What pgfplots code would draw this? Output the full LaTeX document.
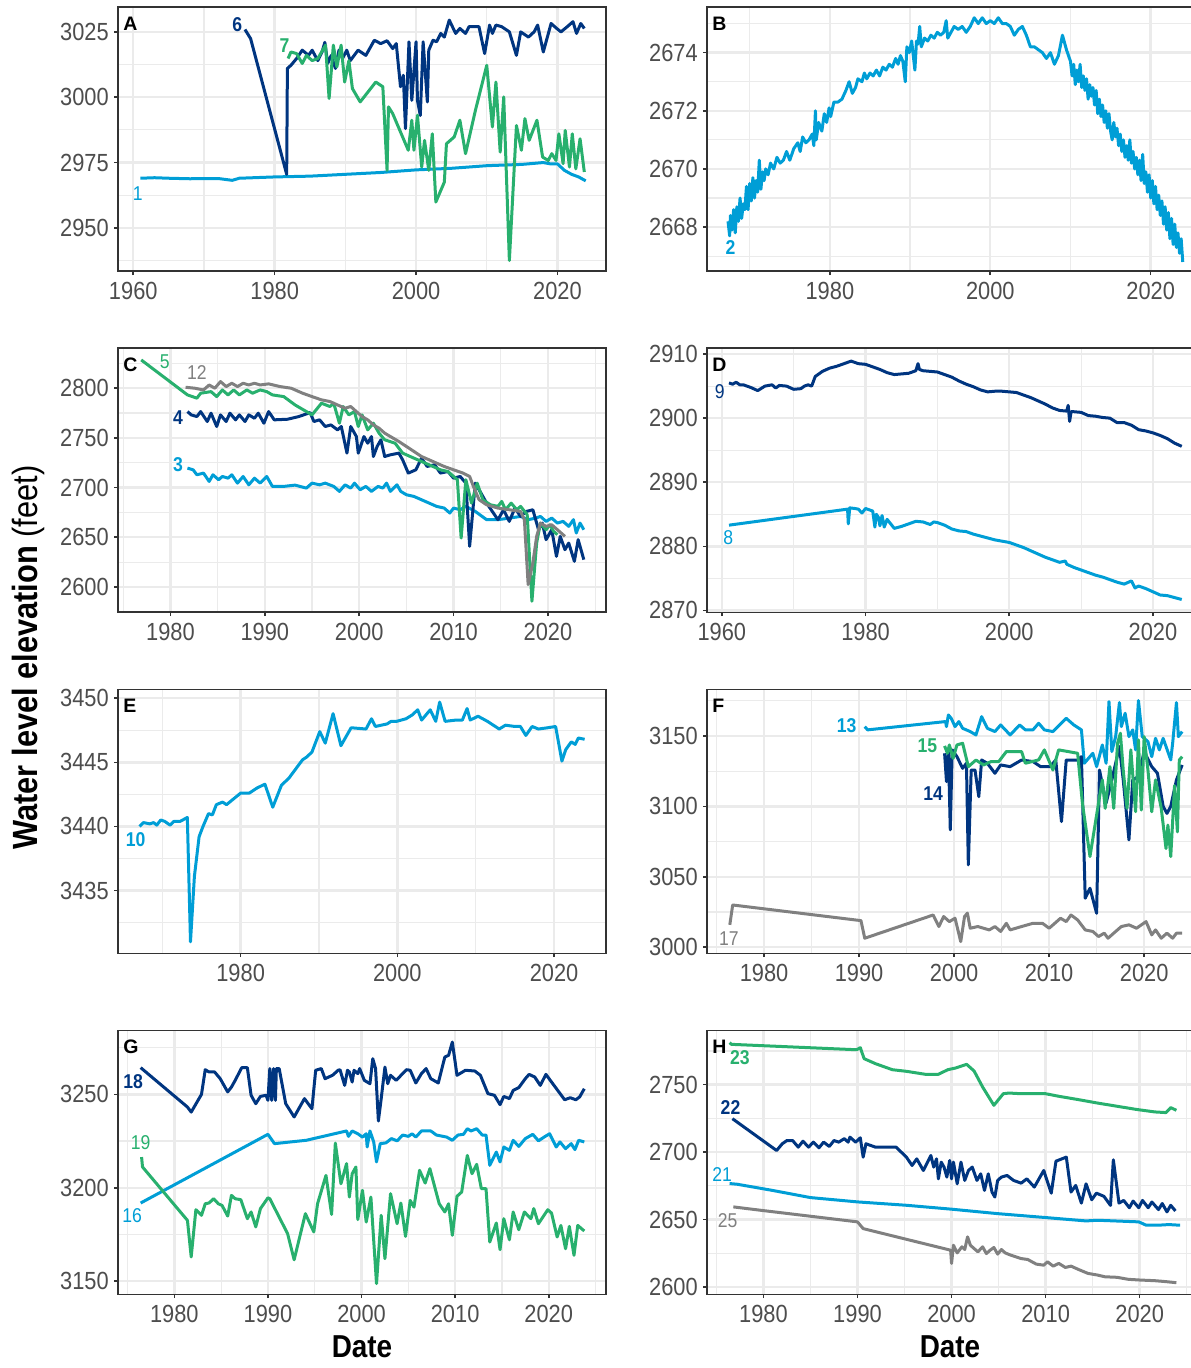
\documentclass[border=0pt]{standalone}
\usepackage{pgfplots}
\pgfplotsset{compat=1.18}
\usepackage{fontspec}
\setmainfont{Liberation Sans}
\newfontfamily\narrowfont{Liberation Sans}[FakeStretch=0.88]
\definecolor{lb}{RGB}{0,158,214}
\definecolor{nv}{RGB}{0,53,128}
\definecolor{gr}{RGB}{40,176,110}
\definecolor{gy}{RGB}{128,128,128}
\definecolor{g20}{RGB}{51,51,51}
\definecolor{g30}{RGB}{77,77,77}
\definecolor{g92}{RGB}{235,235,235}
\pgfplotsset{
  panel/.style={
    scale only axis, height=132pt,
    axis line style={draw=g20, line width=0.8pt},
    tick align=outside, major tick length=1.9pt, minor tick length=0pt,
    tick style={draw=g20, line width=0.8pt},
    tick pos=left,
    grid=both,
    major grid style={draw=g92, line width=1.2pt},
    minor grid style={draw=g92, line width=0.6pt},
    tick label style={font=\narrowfont\fontsize{12.4}{14}\selectfont, text=g30},
    yticklabel style={xshift=0.8pt},
    every axis plot/.append style={line width=1.5pt, line join=round, mark=none},
    clip mode=individual,
  },
  leftp/.style={panel, width=244pt},
  rightp/.style={panel, width=248.5pt},
}
\tikzset{
  lbl/.style={font=\narrowfont\bfseries\fontsize{10}{11}\selectfont, inner sep=0pt},
  lblr/.style={font=\narrowfont\fontsize{10}{11}\selectfont, inner sep=0pt},
  plet/.style={font=\bfseries\fontsize{9.75}{11}\selectfont, inner sep=0pt, anchor=north west, xshift=2.5pt, yshift=-4.7pt},
}
\begin{document}
\begin{tikzpicture}
\useasboundingbox (0,0) rectangle (595pt,-684pt);
% ---------------- A ----------------
\begin{axis}[leftp, at={(59pt,-3.65pt)}, anchor=north west,
  xmin=1957.84, xmax=2026.87, ymin=2933.4, ymax=3034.4,
  xtick={1960,1980,2000,2020}, xticklabels={1960,1980,2000,2020},
  minor xtick={1970,1990,2010},
  ytick={2950,2975,3000,3025}, yticklabels={2950,2975,3000,3025},
  minor ytick={2937.5,2962.5,2987.5,3012.5}]
\addplot[lb] coordinates {(1961,2969) (1963,2969.2) (1965,2969) (1968,2968.8) (1972,2968.9) (1974,2968.2) (1975,2969) (1980,2969.5) (1985,2969.8) (1990,2970.5) (1995,2971.2) (2000,2972.2) (2005,2972.8) (2010,2973.8) (2015,2974.3) (2018,2975) (2019,2974.5) (2020,2974.5) (2021,2972) (2022,2970.5) (2023,2969.5) (2024,2968)};
\addplot[nv] coordinates {(1975.8,3025.9) (1976.6,3022.4) (1981.7,2970.5) (1981.8,3011) (1982.3,3012.2) (1983.1,3014.8) (1983.9,3018) (1984.8,3016) (1985.3,3018) (1986.1,3014) (1986.7,3017.3) (1987.1,3021) (1987.5,3012.9) (1988,3016) (1988.6,3011) (1989.1,3018) (1989.6,3014.8) (1990.2,3018) (1990.7,3014) (1991.8,3018) (1992.9,3016) (1994.1,3021.8) (1995,3020.5) (1995.9,3021.6) (1996.7,3018.6) (1997.2,3020.5) (1997.8,3004) (1998.2,3008.4) (1998.5,2988) (1999,3021.2) (1999.4,2998.8) (2000,3021.2) (2000.2,2998.8) (2000.6,2993) (2001,3021.2) (2001.6,2998.2) (2001.8,3018) (2002.4,3021.8) (2002.9,3021.2) (2003.5,3024.4) (2004,3023) (2004.7,3029.5) (2005.6,3024.4) (2006.2,3026.3) (2007,3024.4) (2007.5,3027) (2008.9,3027) (2009.7,3016.7) (2010.4,3027.6) (2010.8,3024.4) (2011.3,3027.6) (2012.1,3027) (2013.2,3025) (2014.2,3016) (2014.8,3025) (2015.9,3023) (2016.7,3025) (2017.2,3027.6) (2018,3017.3) (2019.1,3028.2) (2019.9,3026.3) (2020.5,3025) (2021.4,3027) (2022.2,3028.9) (2022.7,3024.4) (2023.3,3028.2) (2023.8,3026.3)};
\addplot[gr] coordinates {(1981.9,3014.8) (1982.3,3017.3) (1983.1,3016.7) (1983.9,3012.9) (1984.5,3016) (1985.3,3014) (1986.1,3014.8) (1987.2,3019.9) (1987.7,2999.5) (1988.3,3019.9) (1988.8,3011.6) (1989.4,3019.9) (1989.9,3005.8) (1990.5,3014) (1991,3003.3) (1992.1,2998.2) (1994.3,3005.8) (1995.3,3004) (1995.9,2972) (1996.1,2996.3) (1996.7,2993.7) (1998.9,2979.7) (1999.4,2991.2) (1999.7,2979.7) (2000.2,2993.1) (2000.8,2973.3) (2001.2,2983.5) (2001.8,2972) (2002.3,2986) (2002.8,2959.9) (2004,2967.5) (2004.3,2982.2) (2005.4,2984.8) (2006.2,2991.2) (2007,2978.4) (2008.4,2995) (2010,3012.2) (2010.8,2988.6) (2011.3,3005.8) (2011.9,2979) (2012.4,3000.1) (2013.2,2937.5) (2014.2,2989.2) (2014.9,2979.7) (2015.4,2991.8) (2016,2983.5) (2017.1,2991.2) (2017.9,2977.1) (2018.7,2975.8) (2019.2,2978.4) (2019.8,2975.8) (2020.2,2986) (2020.8,2974.6) (2021.1,2987.3) (2021.7,2973.3) (2022.1,2986) (2022.6,2972.6) (2023.2,2984.1) (2023.8,2971.4)};
\node[plet] at (rel axis cs:0,1) {A};
\node[lbl, text=nv] at (axis cs:1974.7,3027.9) {6};
\node[lbl, text=gr] at (axis cs:1981.4,3019.9) {7};
\node[lblr, text=lb] at (axis cs:1960.65,2963.1) {1};
\end{axis}
% ---------------- B ----------------
\begin{axis}[rightp, at={(353.5pt,-3.65pt)}, anchor=north west,
  xmin=1964.68, xmax=2026.65, ymin=2666.48, ymax=2675.56,
  xtick={1980,2000,2020}, xticklabels={1980,2000,2020},
  minor xtick={1970,1990,2010},
  ytick={2668,2670,2672,2674}, yticklabels={2668,2670,2672,2674},
  minor ytick={2667,2669,2671,2673,2675}]
\addplot[lb] coordinates {(1967.3,2668.2) (1967.5,2667.7) (1967.6,2668.4) (1967.8,2667.9) (1968.0,2668.6) (1968.2,2667.8) (1968.4,2668.7) (1968.6,2668.2) (1968.8,2669.0) (1969.0,2668.3) (1969.2,2668.8) (1969.4,2668.6) (1969.6,2669.4) (1969.8,2668.6) (1970.0,2669.5) (1970.2,2668.9) (1970.4,2669.7) (1970.6,2669.0) (1970.8,2669.6) (1971.0,2669.2) (1971.2,2670.3) (1971.4,2669.3) (1971.6,2669.9) (1971.8,2669.6) (1972.0,2670.0) (1972.3,2669.8) (1972.6,2670.2) (1973,2670.0) (1973.4,2670.4) (1973.8,2670.2) (1974.2,2670.3) (1974.6,2670.6) (1975,2670.3) (1975.5,2670.7) (1976,2670.9) (1976.3,2670.6) (1976.6,2671.1) (1977,2670.9) (1977.4,2671.0) (1977.8,2671.2) (1978.0,2670.8) (1978.2,2672.0) (1978.3,2671.0) (1978.6,2671.6) (1979,2671.3) (1979.3,2671.9) (1979.6,2671.6) (1979.9,2672.1) (1980.1,2671.8) (1980.5,2672.3) (1981,2672.3) (1981.5,2672.4) (1982,2672.7) (1982.4,2673.0) (1982.8,2672.6) (1983.2,2672.8) (1983.5,2673.1) (1984,2673.0) (1984.3,2673.3) (1984.6,2673.1) (1985,2673.3) (1985.4,2673.2) (1985.8,2673.4) (1986.2,2673.2) (1986.6,2673.5) (1987,2673.4) (1987.4,2673.6) (1987.8,2673.5) (1988.2,2673.8) (1988.5,2673.6) (1988.8,2673.9) (1989.1,2673.7) (1989.4,2673.0) (1989.6,2674.2) (1989.9,2674.0) (1990.2,2674.4) (1990.4,2673.9) (1990.6,2673.4) (1990.8,2674.4) (1991,2674.3) (1991.2,2674.9) (1991.4,2674.2) (1991.8,2674.5) (1992.2,2674.4) (1992.6,2674.6) (1993,2674.5) (1993.4,2674.7) (1993.8,2674.6) (1994.2,2674.7) (1994.5,2675.1) (1994.7,2674.5) (1995.1,2674.7) (1995.5,2674.9) (1996,2674.8) (1996.5,2674.9) (1997,2674.7) (1997.5,2674.9) (1998,2675.2) (1998.5,2675.0) (1999,2675.2) (1999.5,2675.0) (2000,2675.1) (2000.5,2675.0) (2001,2675.2) (2001.5,2675.0) (2002,2675.0) (2002.5,2674.9) (2003,2674.6) (2003.5,2674.8) (2004,2674.9) (2004.5,2674.6) (2005,2674.2) (2005.5,2674.2) (2006,2674.1) (2006.5,2674.0) (2007,2673.8) (2007.5,2674.0) (2008,2673.6) (2008.5,2673.9) (2009,2674.6) (2009.5,2674.1) (2010,2673.7) (2010.2,2673.2) (2010.4,2673.6) (2010.6,2672.9) (2010.8,2673.4) (2011.0,2673.0) (2011.2,2673.6) (2011.4,2672.8) (2011.6,2673.2) (2011.8,2672.7) (2012.0,2673.1) (2012.2,2672.4) (2012.4,2672.9) (2012.6,2672.5) (2012.8,2672.8) (2013.0,2672.2) (2013.2,2672.7) (2013.4,2671.9) (2013.6,2672.4) (2013.8,2671.8) (2014.0,2672.2) (2014.2,2671.6) (2014.4,2672.0) (2014.6,2671.4) (2014.8,2671.9) (2015.0,2671.3) (2015.2,2671.0) (2015.4,2671.6) (2015.6,2671.1) (2015.8,2671.4) (2016.0,2670.8) (2016.2,2671.2) (2016.4,2670.6) (2016.6,2671.0) (2016.8,2670.4) (2017.0,2670.8) (2017.2,2670.3) (2017.4,2671.0) (2017.6,2670.2) (2017.8,2670.6) (2018.0,2670.0) (2018.2,2670.4) (2018.4,2669.8) (2018.6,2670.3) (2018.8,2669.6) (2019.0,2670.5) (2019.2,2669.5) (2019.4,2669.9) (2019.6,2669.2) (2019.8,2669.8) (2020.0,2669.0) (2020.2,2669.6) (2020.4,2668.8) (2020.6,2669.4) (2020.8,2668.6) (2021.0,2669.1) (2021.2,2668.4) (2021.4,2668.9) (2021.6,2668.1) (2021.8,2668.7) (2022.0,2667.9) (2022.2,2668.5) (2022.4,2667.6) (2022.6,2668.3) (2022.8,2667.4) (2023.0,2668.1) (2023.2,2667.3) (2023.4,2667.8) (2023.6,2667.1) (2023.8,2667.6) (2024,2666.8)};
\node[plet] at (rel axis cs:0,1) {B};
\node[lbl, text=lb] at (axis cs:1967.6,2667.3) {2};
\end{axis}
% ---------------- C ----------------
\begin{axis}[leftp, at={(59pt,-174.15pt)}, anchor=north west,
  xmin=1974.44, xmax=2026.15, ymin=2574.5, ymax=2840.2,
  xtick={1980,1990,2000,2010,2020}, xticklabels={1980,1990,2000,2010,2020},
  minor xtick={1975,1985,1995,2005,2015,2025},
  ytick={2600,2650,2700,2750,2800}, yticklabels={2600,2650,2700,2750,2800},
  minor ytick={2575,2625,2675,2725,2775,2825}]
\addplot[lb] coordinates {(1981.8,2719.6) (1982.4,2717.9) (1982.8,2712.9) (1983.5,2714.6) (1984.1,2706.2) (1984.5,2712.9) (1985.1,2707.9) (1985.5,2711.2) (1986.1,2709.5) (1986.5,2712.9) (1987.1,2704.5) (1987.7,2711.2) (1988.3,2702.8) (1988.9,2709.5) (1989.5,2704.5) (1990.2,2711.2) (1990.8,2701.2) (1992,2701.2) (1993.2,2702.5) (1994.4,2699.5) (1995,2704.5) (1995.8,2702.8) (1996.4,2704.5) (1997.3,2701.2) (1997.9,2696.2) (1998.5,2702.8) (1999.1,2699.5) (1999.5,2704.5) (2000.1,2697.8) (2000.7,2701.2) (2001.3,2696.2) (2002,2701.2) (2002.5,2699.5) (2002.9,2704.5) (2003.3,2696.2) (2004,2702.8) (2004.4,2696.2) (2005,2692.8) (2005.8,2691.1) (2007,2686.1) (2008.2,2681.1) (2009,2679.4) (2009.6,2674.4) (2010,2679.4) (2010.7,2677.7) (2011.3,2681.1) (2012.3,2676) (2013.5,2667.7) (2014.7,2667.7) (2015.9,2669.3) (2017.1,2671) (2017.9,2667.7) (2018.7,2669.3) (2019.2,2671) (2019.8,2666) (2020.4,2669.3) (2021,2664.3) (2021.6,2666) (2022.2,2661) (2022.7,2667.7) (2023,2654.3) (2023.4,2664.3) (2023.8,2657.6)};
\addplot[nv] coordinates {(1981.8,2776.5) (1982.2,2773.2) (1982.8,2771.5) (1983.2,2776.5) (1983.9,2766.5) (1984.3,2774.9) (1984.9,2761.5) (1985.3,2773.2) (1985.9,2766.5) (1986.3,2774.9) (1986.9,2768.2) (1987.3,2773.2) (1987.9,2766.5) (1988.3,2773.2) (1988.9,2769.8) (1989.3,2774.9) (1989.9,2764.8) (1990.4,2776.5) (1991,2768.2) (1992.4,2768.8) (1993.6,2771.5) (1994.8,2775.5) (1995.2,2766.5) (1995.8,2768.2) (1996.4,2761.5) (1997,2763.1) (1997.7,2758.1) (1998.1,2761.5) (1998.7,2734.7) (1999.1,2761.5) (1999.7,2751.4) (1999.9,2734.7) (2000.5,2751.4) (2000.9,2744.7) (2001.3,2751.4) (2001.5,2731.3) (2001.9,2741.4) (2002.3,2748.1) (2002.7,2731.3) (2003.3,2733) (2004.2,2734.7) (2004.6,2728) (2005.2,2714.6) (2006,2717.9) (2006.6,2729.6) (2007.2,2721.3) (2008,2723) (2008.6,2714.6) (2009.4,2716.2) (2010,2709.5) (2010.7,2711.2) (2011.3,2704.5) (2011.7,2640.9) (2012.3,2704.5) (2012.9,2694.5) (2013.5,2684.4) (2014.7,2667.7) (2015.3,2677.7) (2015.9,2666) (2016.5,2679.4) (2017.1,2671) (2017.7,2676) (2018.4,2677.7) (2019,2657.6) (2019.4,2664.3) (2019.8,2647.6) (2020.4,2657.6) (2020.9,2630.8) (2021.3,2650.9) (2021.8,2637.5) (2022.2,2644.2) (2022.8,2625.8) (2023.2,2647.6) (2023.8,2627.5)};
\addplot[gr] coordinates {(1976.9,2828.5) (1981.8,2793.3) (1982.8,2790) (1983.2,2795) (1984.3,2796.6) (1984.9,2791.6) (1985.5,2798.3) (1986.1,2793.3) (1986.7,2798.3) (1987.3,2793.3) (1988.1,2798.3) (1988.7,2795) (1989.5,2798.3) (1990.2,2796.6) (1990.8,2793.3) (1992,2791.6) (1993.2,2783.2) (1995,2773.2) (1996,2784.9) (1996.9,2781.6) (1997.3,2784.9) (1997.9,2764.8) (1998.3,2781.6) (1998.9,2773.2) (1999.5,2776.5) (1999.9,2761.5) (2000.3,2773.2) (2000.9,2758.1) (2001.5,2764.8) (2002.1,2754.8) (2002.7,2748.1) (2003.8,2744.7) (2004.6,2734.7) (2005.4,2731.3) (2006.2,2728) (2007,2724.6) (2007.8,2721.3) (2008.6,2717.9) (2009.4,2716.2) (2010,2711.2) (2010.4,2707.9) (2010.8,2649.2) (2011.3,2707.9) (2011.9,2684.4) (2012.5,2704.5) (2013.1,2687.8) (2013.9,2682.7) (2014.7,2681.1) (2015.1,2686.1) (2015.5,2677.7) (2016.1,2684.4) (2016.7,2677.7) (2017.1,2681.1) (2017.8,2672.7) (2018.3,2585.6) (2018.8,2644.2) (2019.2,2664.3) (2019.8,2657.6) (2020.2,2662.6) (2020.6,2656) (2021,2652.6)};
\addplot[gy] coordinates {(1981.6,2801) (1982.6,2800) (1983.5,2798.3) (1984.1,2803.3) (1984.7,2800) (1985.3,2806.7) (1985.9,2801.7) (1986.5,2805) (1987.1,2801.7) (1987.7,2805) (1988.3,2803.3) (1988.9,2805) (1989.5,2803.3) (1990.4,2804.4) (1991.6,2801.7) (1992.8,2800) (1994,2795) (1995,2791.6) (1996,2788.3) (1996.9,2786.6) (1997.7,2783.2) (1998.5,2779.9) (1999.1,2781.6) (1999.7,2776.5) (2000.3,2771.5) (2000.9,2768.2) (2001.5,2763.1) (2002.1,2759.8) (2002.7,2754.8) (2003.3,2751.4) (2004.2,2746.4) (2005,2741.4) (2005.8,2736.4) (2006.6,2731.3) (2007.4,2728) (2008.2,2724.6) (2009,2721.3) (2010,2717.9) (2011,2714.6) (2011.7,2711.2) (2012.1,2701.2) (2012.7,2687.8) (2013.5,2682.7) (2014.7,2679.4) (2015.9,2677.7) (2017.1,2676) (2017.5,2667.7) (2017.9,2602.4) (2018.4,2624.1) (2018.8,2650.9) (2019.2,2664.3) (2019.8,2661) (2020.4,2662.6) (2021,2657.6) (2021.8,2650.9)};
\node[plet] at (rel axis cs:0,1) {C};
\node[lblr, text=gr] at (axis cs:1979.4,2826.8) {5};
\node[lblr, text=gy] at (axis cs:1982.8,2815.7) {12};
\node[lbl, text=nv] at (axis cs:1980.8,2770.9) {4};
\node[lbl, text=lb] at (axis cs:1980.8,2723) {3};
\end{axis}
% ---------------- D ----------------
\begin{axis}[rightp, at={(353.5pt,-174.15pt)}, anchor=north west,
  xmin=1957.94, xmax=2027.1, ymin=2869.7, ymax=2910.9,
  xtick={1960,1980,2000,2020}, xticklabels={1960,1980,2000,2020},
  minor xtick={1970,1990,2010},
  ytick={2870,2880,2890,2900,2910}, yticklabels={2870,2880,2890,2900,2910},
  minor ytick={2875,2885,2895,2905}]
\addplot[nv] coordinates {(1961,2905.5) (1961.5,2905.3) (1962,2905.6) (1962.5,2905.2) (1963,2905.2) (1964,2904.8) (1965,2904.3) (1966,2905.0) (1967,2905.2) (1967.5,2904.7) (1968,2905.1) (1969,2905.0) (1970,2904.5) (1971,2904.6) (1971.5,2905.0) (1972,2905.2) (1972.5,2905.0) (1973,2906.5) (1974,2907.3) (1975,2907.8) (1976,2908.1) (1977,2908.5) (1978,2908.9) (1979,2908.5) (1980,2908.4) (1981,2908.0) (1982,2907.6) (1983,2907.1) (1984,2906.8) (1985,2906.9) (1986,2907.0) (1987,2907.4) (1987.3,2908.5) (1987.5,2907.6) (1988,2907.4) (1989,2907.3) (1990,2907.2) (1991,2906.8) (1992,2906.4) (1993,2905.8) (1994,2905.3) (1995,2904.9) (1996,2904.4) (1997,2904.1) (1998,2904.2) (1999,2904.2) (2000,2904.1) (2001,2904.0) (2002,2903.6) (2003,2903.2) (2004,2902.7) (2005,2902.2) (2006,2901.6) (2007,2901.2) (2008,2901.1) (2008.2,2902.0) (2008.4,2899.5) (2008.6,2901.0) (2009,2901.0) (2010,2900.9) (2011,2900.4) (2012,2900.3) (2013,2900.1) (2014,2900.0) (2015,2899.3) (2016,2899.3) (2017,2898.9) (2018,2898.2) (2019,2898.0) (2020,2897.7) (2021,2897.3) (2022,2896.8) (2023,2896.1) (2024,2895.6)};
\addplot[lb] coordinates {(1961,2883.3) (1977.5,2885.8) (1977.6,2883.5) (1977.8,2886.0) (1978.5,2885.9) (1979,2885.8) (1979.5,2885.2) (1980,2885.9) (1981,2885.5) (1981.3,2883.0) (1981.5,2885.0) (1981.8,2884.5) (1982,2883.2) (1982.3,2884.8) (1982.6,2883.0) (1983,2884.2) (1984,2882.8) (1985,2883.1) (1986,2883.5) (1987,2883.9) (1988,2883.8) (1989,2883.4) (1989.5,2883.8) (1990,2883.7) (1991,2883.3) (1992,2882.7) (1993,2882.4) (1994,2882.3) (1995,2881.9) (1996,2881.6) (1997,2881.3) (1998,2881.0) (1999,2880.8) (2000,2880.6) (2001,2880.2) (2002,2879.8) (2003,2879.3) (2004,2878.8) (2005,2878.3) (2006,2877.9) (2007,2877.5) (2007.8,2877.7) (2008,2877.2) (2009,2876.7) (2010,2876.3) (2011,2875.9) (2012,2875.5) (2013,2875.2) (2014,2874.8) (2015,2874.4) (2016,2874.1) (2017,2874.6) (2017.5,2873.5) (2018,2873.8) (2019,2873.4) (2020,2872.9) (2021,2872.4) (2022,2872.3) (2023,2872.0) (2024,2871.7)};
\node[plet] at (rel axis cs:0,1) {D};
\node[lblr, text=nv] at (axis cs:1959.7,2904.1) {9};
\node[lblr, text=lb] at (axis cs:1960.9,2881.3) {8};
\end{axis}
% ---------------- E ----------------
\begin{axis}[leftp, at={(59pt,-344.65pt)}, anchor=north west,
  xmin=1964.35, xmax=2026.63, ymin=3430.1, ymax=3450.7,
  xtick={1980,2000,2020}, xticklabels={1980,2000,2020},
  minor xtick={1970,1990,2010},
  ytick={3435,3440,3445,3450}, yticklabels={3435,3440,3445,3450},
  minor ytick={3432.5,3437.5,3442.5,3447.5}]
\addplot[lb] coordinates {(1967.1,3440) (1967.6,3440.3) (1968.4,3440.2) (1968.9,3440.3) (1969.3,3440.1) (1969.8,3440.5) (1970.3,3440.4) (1971,3440.1) (1971.5,3440.4) (1972.3,3440.4) (1973.2,3440.7) (1973.6,3431.0) (1974.1,3436.1) (1974.7,3439.2) (1975.2,3440) (1975.9,3441) (1976.4,3440.9) (1976.9,3441.7) (1977.7,3441.9) (1978.2,3441.7) (1980,3442.6) (1981.1,3442.6) (1982.1,3443) (1983.1,3443.3) (1984.1,3441.5) (1985.2,3443.2) (1986.2,3443.8) (1987.9,3445.2) (1988.4,3445.4) (1989.1,3445.8) (1990.1,3447.4) (1990.8,3446.5) (1991.8,3448.8) (1992.8,3446.3) (1994.1,3447.7) (1996,3447.6) (1996.7,3448.4) (1997.2,3447.8) (1998.7,3448) (1999.2,3448.2) (1999.9,3448.2) (2001.1,3448.4) (2001.9,3448.7) (2002.6,3449.1) (2003.1,3448.3) (2004.2,3449.1) (2004.9,3448.2) (2005.4,3449.7) (2006.1,3448.2) (2007.5,3448.3) (2008.3,3448.3) (2008.9,3449.2) (2009.3,3448.3) (2010.3,3448.6) (2011.5,3448.2) (2013,3447.6) (2013.8,3447.9) (2015,3447.8) (2015.7,3447.8) (2016.4,3447.1) (2017.2,3447.8) (2018,3447.6) (2019.2,3447.7) (2020.2,3447.8) (2021,3445.1) (2021.5,3446) (2022.2,3446.6) (2022.7,3446.4) (2023.1,3446.9) (2023.9,3446.8)};
\node[plet] at (rel axis cs:0,1) {E};
\node[lbl, text=lb] at (axis cs:1966.6,3439) {10};
\end{axis}
% ---------------- F ----------------
\begin{axis}[rightp, at={(353.5pt,-344.65pt)}, anchor=north west,
  xmin=1974.0, xmax=2026.3, ymin=2995.7, ymax=3183.1,
  xtick={1980,1990,2000,2010,2020}, xticklabels={1980,1990,2000,2010,2020},
  minor xtick={1975,1985,1995,2005,2015,2025},
  ytick={3000,3050,3100,3150}, yticklabels={3000,3050,3100,3150},
  minor ytick={3025,3075,3125,3175}]
\addplot[gy] coordinates {(1976.4,3015.9) (1976.7,3030) (1990.2,3018.9) (1990.6,3006.4) (1997.8,3022.9) (1998.4,3014.7) (1998.9,3021.8) (1999.5,3018.2) (2000.1,3020.6) (2000.7,3004) (2001.1,3021.8) (2001.4,3024.2) (2001.7,3013.5) (2002.5,3014.7) (2003.1,3013.5) (2003.7,3012.3) (2004.3,3014.7) (2004.9,3011.2) (2005.5,3017) (2005.9,3012.3) (2007.1,3014.7) (2008.3,3017) (2009.3,3017) (2010,3013.5) (2010.6,3017) (2011.2,3020.6) (2011.8,3018.2) (2012.3,3022.9) (2013,3019.4) (2013.8,3012.3) (2014.6,3011.2) (2015.2,3007.6) (2015.8,3010) (2016.2,3006.4) (2016.8,3010) (2017.6,3014.7) (2018.4,3015.9) (2019.2,3013.5) (2020.2,3018.2) (2020.8,3008.8) (2021.2,3012.3) (2021.8,3006.4) (2022.4,3010) (2023,3006.4) (2023.4,3010) (2024,3010)};
\addplot[lb] coordinates {(1990.6,3156.6) (1990.9,3154.3) (1999.1,3160.2) (1999.2,3156.6) (1999.4,3164.9) (1999.7,3162.5) (2000.1,3156.6) (2000.5,3160.2) (2000.9,3155.4) (2001.7,3153.1) (2002.3,3150.7) (2002.9,3163.7) (2003.5,3155.4) (2004.3,3153.1) (2004.9,3157.8) (2005.9,3150.7) (2006.9,3157.8) (2007.5,3154.3) (2008.3,3154.3) (2008.9,3159) (2009.5,3154.3) (2010.4,3153.1) (2011.8,3162.5) (2012.6,3157.8) (2013.4,3154.3) (2013.7,3130.6) (2014.6,3137.7) (2015,3128.2) (2015.6,3143.6) (2016,3130.6) (2016.3,3174.4) (2016.6,3138.9) (2017,3149.5) (2017.4,3173.7) (2017.6,3156.6) (2018,3166.1) (2018.4,3149.5) (2018.8,3154.3) (2019.1,3140.1) (2019.4,3175.1) (2019.8,3149.5) (2020.4,3146) (2020.8,3135.3) (2021.2,3148.3) (2021.6,3140.1) (2022,3148.3) (2022.8,3133) (2023,3144.8) (2023.4,3173.7) (2023.6,3149.5) (2024,3153.1)};
\addplot[nv] coordinates {(1999,3137.7) (1999.2,3117.6) (1999.4,3140.1) (1999.6,3083.3) (1999.8,3140.1) (2000.3,3135.3) (2000.9,3127) (2001.3,3130.6) (2001.5,3058.5) (2001.8,3125.8) (2002.2,3125.8) (2002.6,3106.9) (2002.9,3132.9) (2003.5,3130.6) (2004.3,3123.5) (2004.9,3129.4) (2005.9,3128.2) (2007.1,3132.9) (2008.3,3131.8) (2009.1,3128.2) (2010.1,3128.2) (2010.7,3132.9) (2011.3,3089.2) (2011.8,3132.9) (2013,3132.9) (2013.4,3135.3) (2013.8,3034.8) (2014.3,3041.9) (2015,3024.1) (2015.3,3125.8) (2016,3102.4) (2016.6,3118.8) (2017.4,3142.4) (2017.8,3118.8) (2018.4,3076.2) (2018.8,3118.8) (2019.4,3121.1) (2020,3138.9) (2020.8,3128.2) (2021.4,3123.5) (2022,3100) (2022.4,3095) (2022.8,3100) (2023.4,3118.8) (2024,3129.4)};
\addplot[gr] coordinates {(1999,3142.9) (1999.3,3137.7) (1999.5,3143.6) (1999.9,3134.1) (2000.3,3143.6) (2000.9,3144.8) (2001.5,3128.2) (2002.3,3132.9) (2003.1,3129.4) (2003.9,3131.8) (2004.7,3131.8) (2005.5,3138.9) (2007.1,3138.9) (2007.5,3130.6) (2008.9,3133) (2009.5,3140.1) (2010.4,3125.8) (2011,3140.1) (2013,3137.7) (2013.5,3102.4) (2014.3,3064.4) (2015.2,3102.4) (2015.6,3118.8) (2015.9,3098.6) (2016.4,3128.2) (2016.8,3098.6) (2017.2,3144.8) (2017.5,3151.9) (2017.8,3125.8) (2018.2,3098.6) (2018.6,3140.1) (2019.1,3096.2) (2019.4,3147.2) (2019.7,3097.4) (2020,3149.5) (2020.4,3125.8) (2020.8,3096.2) (2021.2,3118.8) (2021.8,3098.6) (2022.3,3070.1) (2022.5,3086.7) (2022.8,3064.4) (2023.2,3114.7) (2023.5,3081.9) (2023.7,3132.9) (2024,3135.3)};
\node[plet] at (rel axis cs:0,1) {F};
\node[lbl, text=lb] at (axis cs:1988.7,3157) {13};
\node[lbl, text=gr] at (axis cs:1997.2,3142.9) {15};
\node[lbl, text=nv] at (axis cs:1997.8,3109.3) {14};
\node[lblr, text=gy] at (axis cs:1976.3,3006.4) {17};
\end{axis}
% ---------------- G ----------------
\begin{axis}[leftp, at={(59pt,-515.15pt)}, anchor=north west,
  xmin=1973.98, xmax=2026.12, ymin=3142.9, ymax=3284.3,
  xtick={1980,1990,2000,2010,2020}, xticklabels={1980,1990,2000,2010,2020},
  minor xtick={1975,1985,1995,2005,2015,2025},
  ytick={3150,3200,3250}, yticklabels={3150,3200,3250},
  minor ytick={3175,3225,3275}]
\addplot[nv] coordinates {(1976.4,3264.3) (1981.4,3243.2) (1981.8,3240.5) (1982.9,3250) (1983.3,3263.2) (1983.7,3262) (1984.3,3262) (1984.9,3258.4) (1985.7,3251.3) (1986.1,3253.9) (1986.5,3257.5) (1987.2,3264.3) (1987.8,3264.3) (1988.2,3249.5) (1988.7,3245) (1989.2,3248.9) (1989.8,3249.5) (1990,3246.8) (1990.2,3263.8) (1990.4,3246.8) (1990.6,3263.8) (1990.8,3246.8) (1990.9,3263.8) (1991.2,3263.8) (1991.9,3245) (1992.8,3237.9) (1993.9,3247.7) (1994.7,3242.3) (1995.1,3262.9) (1995.7,3263.8) (1996.1,3258.4) (1996.9,3260.2) (1997.5,3262.9) (1997.7,3263.2) (1998.2,3254.8) (1998.5,3262.9) (1998.7,3262) (1999,3256.6) (1999.2,3262.9) (1999.6,3261.1) (1999.8,3263.8) (2000.3,3257.5) (2000.9,3255.7) (2001.2,3269.1) (2001.5,3263.8) (2001.8,3235.7) (2002.1,3247.7) (2002.5,3264.6) (2002.8,3255.7) (2003.1,3260.2) (2003.7,3257.5) (2004.8,3263.2) (2005.2,3262.9) (2005.8,3256.1) (2006.4,3261.1) (2006.9,3263.8) (2007.4,3258.4) (2008.2,3256.1) (2008.9,3270) (2009.3,3270.9) (2009.7,3278) (2010.2,3260.2) (2011.1,3262.9) (2012.1,3262.5) (2012.7,3260.2) (2013.5,3250.4) (2014.2,3249.5) (2014.8,3244.5) (2015.2,3248.9) (2015.8,3247.7) (2016.2,3252.1) (2016.8,3253.6) (2017.5,3258.4) (2017.9,3260.7) (2018.5,3259.3) (2019.1,3254.8) (2019.7,3260.7) (2020.3,3256.6) (2021.7,3247.1) (2022.3,3248.2) (2022.9,3247.1) (2023.3,3248.6) (2023.8,3253)};
\addplot[lb] coordinates {(1976.4,3191.8) (1990,3228.6) (1990.7,3223.6) (1994.1,3225.4) (1998.4,3230.4) (1998.6,3227.5) (1999,3230.4) (1999.6,3228.9) (2000.1,3227.1) (2000.5,3228.9) (2000.6,3221.8) (2000.9,3230.4) (2001.3,3224.5) (2001.6,3213.8) (2002,3223.6) (2002.6,3224) (2003.2,3226.3) (2003.8,3225.1) (2004.4,3228.2) (2005,3227.5) (2005.4,3228.9) (2005.8,3227.1) (2006.4,3230.4) (2007.4,3230.4) (2008,3228.2) (2009.1,3227.1) (2009.7,3225.4) (2010.3,3228.2) (2010.9,3228.6) (2011.3,3231.6) (2011.7,3230.4) (2012.3,3231.6) (2012.9,3228.2) (2013.3,3228.2) (2013.7,3212) (2014.4,3219.1) (2014.8,3213.8) (2015.2,3221.8) (2015.8,3220) (2016.2,3225.4) (2016.8,3222.1) (2017.5,3226.3) (2018.3,3228.6) (2018.9,3225.1) (2019.5,3227.1) (2020.1,3228.9) (2020.8,3221.8) (2021.2,3224.5) (2021.8,3220.9) (2022.4,3223.6) (2022.8,3220.4) (2023.2,3225.4) (2023.8,3224.5)};
\addplot[gr] coordinates {(1976.5,3216.4) (1976.6,3211.1) (1981.4,3182.5) (1981.8,3162.9) (1982.3,3188.2) (1982.9,3185.2) (1983.3,3191.4) (1983.7,3191.8) (1984.2,3194.1) (1984.7,3191.4) (1985.1,3190.5) (1985.7,3184.8) (1986.1,3195.9) (1986.5,3194.1) (1987.1,3193.6) (1987.8,3183.4) (1988.2,3187) (1988.7,3179) (1989.2,3188.8) (1990,3194.6) (1990.2,3194.1) (1992.1,3175.4) (1992.8,3161.4) (1994,3186.1) (1994.9,3176.3) (1995.3,3191.4) (1996.2,3206.6) (1996.8,3185.7) (1997.2,3223.9) (1997.8,3202.1) (1998.4,3212.9) (1998.7,3195) (1999,3207.5) (1999.4,3211.1) (1999.6,3182.9) (2000.1,3198.6) (2000.5,3181.6) (2001,3195) (2001.6,3148.6) (2002.1,3185.2) (2002.5,3162) (2003.1,3196.8) (2003.8,3180.7) (2004.2,3191.8) (2004.7,3173.9) (2005.2,3193.2) (2005.6,3189.6) (2006.2,3209.3) (2006.8,3202.5) (2007.3,3210.2) (2008.3,3191.4) (2008.9,3187) (2009.3,3191.4) (2009.7,3174.5) (2010.2,3195.4) (2010.7,3197.7) (2011.3,3217.3) (2011.8,3207.5) (2012.3,3212.5) (2012.8,3199.5) (2013.3,3199.5) (2013.7,3170.9) (2014.4,3181.1) (2014.8,3166.8) (2015.2,3183.4) (2015.8,3172.1) (2016.2,3187) (2016.8,3177.5) (2017.4,3187) (2018.1,3183.4) (2018.4,3188.8) (2018.9,3180.7) (2019.9,3188.2) (2020.3,3186.4) (2020.9,3173.6) (2021.3,3179.8) (2021.8,3167.3) (2022.2,3179.3) (2022.7,3163.8) (2023.1,3179.8) (2023.8,3176.8)};
\node[plet] at (rel axis cs:0,1) {G};
\node[lbl, text=nv] at (axis cs:1975.6,3256.6) {18};
\node[lblr, text=gr] at (axis cs:1976.4,3223.9) {19};
\node[lblr, text=lb] at (axis cs:1975.5,3185.2) {16};
\end{axis}
% ---------------- H ----------------
\begin{axis}[rightp, at={(353.5pt,-515.15pt)}, anchor=north west,
  xmin=1974.0, xmax=2026.84, ymin=2594.6, ymax=2790.3,
  xtick={1980,1990,2000,2010,2020}, xticklabels={1980,1990,2000,2010,2020},
  minor xtick={1975,1985,1995,2005,2015,2025},
  ytick={2600,2650,2700,2750}, yticklabels={2600,2650,2700,2750},
  minor ytick={2625,2675,2725,2775}]
\addplot[gr] coordinates {(1976.4,2781.1) (1976.6,2779.9) (1989.9,2775.9) (1990.3,2777.4) (1990.7,2769.3) (1991.9,2765.6) (1993.7,2761.1) (1995.2,2759.9) (1997.2,2757.7) (1998.6,2757.7) (1999.6,2761.1) (2000.4,2762.3) (2001.6,2765.1) (2002.4,2760.1) (2003.3,2748.3) (2004.5,2734.7) (2005.5,2743.3) (2006.1,2743.8) (2007.4,2743.3) (2010,2743.3) (2011.4,2741.4) (2013.5,2738.9) (2015.5,2736.4) (2017.6,2734) (2019.6,2731.7) (2021.6,2729.8) (2022.8,2729.3) (2023.3,2733) (2023.9,2731)};
\addplot[nv] coordinates {(1976.7,2724.8) (1981.4,2701.2) (1982,2706.2) (1982.5,2708.6) (1983.1,2708.6) (1983.7,2703.7) (1984.2,2708.1) (1984.8,2703.7) (1985.3,2707.4) (1985.9,2703.2) (1986.4,2707.4) (1987,2704.2) (1987.5,2708.6) (1988,2707.4) (1988.6,2710) (1989,2707.4) (1989.2,2711.1) (1989.8,2707.4) (1990.3,2710.6) (1990.6,2696.3) (1990.9,2706.2) (1991.9,2703.7) (1994.1,2703.7) (1995.2,2696.3) (1995.8,2690.1) (1996.3,2695) (1997,2686.4) (1997.8,2697.5) (1998.1,2688.9) (1998.4,2695) (1998.6,2680.2) (1998.9,2692.6) (1999.2,2688.9) (1999.5,2681.5) (1999.8,2693.8) (2000,2680.2) (2000.2,2692.6) (2000.6,2676.5) (2001,2692.6) (2001.4,2679) (2001.8,2686.4) (2002.2,2688.9) (2002.7,2679) (2003.1,2683.9) (2003.5,2671.6) (2003.9,2683.9) (2004.3,2670.4) (2004.6,2666.7) (2004.9,2679) (2005.3,2681.5) (2005.9,2682.7) (2006.6,2679) (2007.4,2677) (2008,2680.2) (2008.8,2674.1) (2009.8,2686.4) (2010.6,2669.6) (2011.1,2693.3) (2012.2,2696.3) (2012.7,2670.4) (2013.2,2675.3) (2013.8,2662.2) (2014.3,2676.5) (2014.9,2664.7) (2015.4,2669.6) (2016.2,2667.2) (2016.9,2660.5) (2017.2,2694.3) (2017.8,2662.2) (2018.3,2664.2) (2018.9,2658.8) (2019.3,2663.7) (2019.9,2658.8) (2020.3,2664.2) (2020.9,2658.8) (2021.3,2663) (2022,2657.4) (2022.4,2661.9) (2022.9,2655.7) (2023.3,2660.6) (2023.8,2656.4)};
\addplot[lb] coordinates {(1976.4,2676.7) (1977.2,2676.2) (1980.9,2671.7) (1985,2666.3) (1990,2663.1) (1995.2,2660.6) (2000,2657.7) (2004.9,2654.4) (2010,2651.5) (2014.3,2649) (2015.5,2649.5) (2019.9,2648.3) (2020.7,2645.8) (2021.9,2645.8) (2023.1,2646.3) (2024.3,2645.8)};
\addplot[gy] coordinates {(1976.8,2659.4) (1979.7,2656.9) (1990,2648.3) (1990.6,2643.3) (1999.9,2627.3) (2000,2617.5) (2000.2,2631) (2000.6,2625.3) (2001.1,2629.8) (2001.4,2627.8) (2001.7,2637.2) (2002,2631) (2002.4,2628.5) (2002.8,2626.1) (2003.3,2629.8) (2003.7,2624.8) (2004.1,2627.3) (2004.5,2629.3) (2004.9,2624.4) (2005.3,2627.8) (2005.7,2625.3) (2006.3,2623.6) (2007.4,2621.1) (2008.1,2620.4) (2009,2617) (2009.8,2616.2) (2010.2,2618.7) (2010.8,2615.5) (2011.4,2617.5) (2012.1,2614.5) (2012.7,2615.5) (2013.5,2613) (2014.5,2610.1) (2015.5,2608.9) (2016.3,2607.6) (2017.6,2607.2) (2018.8,2605.7) (2020,2605.2) (2021.6,2604.7) (2022.8,2604) (2023.9,2603.2)};
\node[plet] at (rel axis cs:0,1) {H};
\node[lbl, text=gr] at (axis cs:1977.5,2770) {23};
\node[lbl, text=nv] at (axis cs:1976.5,2733) {22};
\node[lblr, text=lb] at (axis cs:1975.6,2683.6) {21};
\node[lblr, text=gy] at (axis cs:1976.2,2649) {25};
\end{axis}
% ---------------- titles ----------------
\node[rotate=90, anchor=north, inner sep=0pt, font=\narrowfont\fontsize{17.5}{20}\selectfont] at (5.75pt,-328.75pt) {\bfseries Water level elevation \mdseries(feet)};
\node[anchor=base, inner sep=0pt, font=\narrowfont\bfseries\fontsize{15.85}{18}\selectfont] at (181pt,-678.85pt) {Date};
\node[anchor=base, inner sep=0pt, font=\narrowfont\bfseries\fontsize{15.85}{18}\selectfont] at (475pt,-678.85pt) {Date};
\end{tikzpicture}
\end{document}
